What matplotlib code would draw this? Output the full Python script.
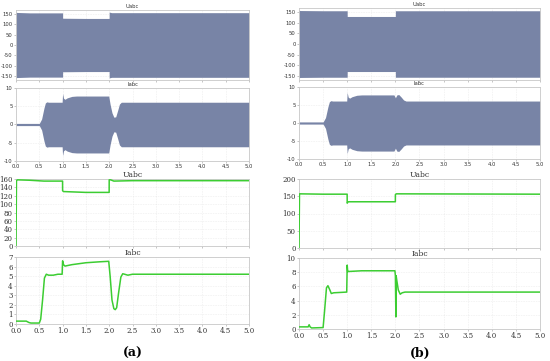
import matplotlib
matplotlib.use("Agg")
import matplotlib.pyplot as plt
import numpy as np

W, H = 550, 361
fig = plt.figure(figsize=(W / 100, H / 100), dpi=100)

# ---------------- data ----------------
# waveform envelopes (a)
wa_u_t = [0.0, 0.02, 0.3, 0.999, 1.0, 1.5, 1.999, 2.0, 2.05, 3.0, 5.0]
wa_u_env = [160, 158, 156, 156, 130, 129, 129, 160, 157, 157, 157]
wa_i_t = [0.0, 0.5, 0.55, 0.6, 0.63, 0.66, 0.7, 0.99, 1.0, 1.02, 1.05, 1.1, 1.2, 1.3, 1.5, 1.99,
          2.02, 2.06, 2.1, 2.14, 2.18, 2.22, 2.26, 2.3, 5.0]
wa_i_env = [0.3, 0.3, 1.5, 4.5, 5.9, 6.2, 6.1, 6.1, 8.5, 7.2, 6.9, 7.3, 7.7, 7.8, 7.8, 7.8,
            5.5, 3.2, 2.0, 2.1, 3.8, 5.6, 6.1, 6.1, 6.1]
# waveform envelopes (b)
wb_u_t = [0.0, 0.02, 0.5, 0.999, 1.0, 1.999, 2.0, 5.0]
wb_u_env = [160, 158, 157, 157, 130, 130, 157, 157]
wb_i_t = [0.0, 0.5, 0.55, 0.6, 0.63, 0.66, 0.7, 0.99, 1.0, 1.02, 1.05, 1.1, 1.2, 1.3, 1.5, 1.97,
          2.0, 2.03, 2.07, 2.12, 2.17, 2.22, 5.0]
wb_i_env = [0.3, 0.3, 1.5, 4.5, 5.9, 6.2, 6.1, 6.1, 8.5, 7.2, 6.9, 7.3, 7.7, 7.8, 7.8, 7.8,
            7.0, 7.8, 7.9, 7.2, 6.4, 6.1, 6.1]

# RMS traces (a)
ra_u_t = [0.0, 0.01, 0.03, 0.3, 0.6, 0.999, 1.0, 1.02, 1.5, 1.999, 2.0, 2.03, 2.1, 2.5, 5.0]
ra_u_v = [0, 156, 158, 157, 155, 155, 132, 130, 128, 128, 158, 158, 155, 156, 156]
ra_i_t = [0.0, 0.22, 0.28, 0.32, 0.5, 0.53, 0.57, 0.61, 0.65, 0.7, 0.8, 0.9, 0.99, 1.0, 1.02,
          1.05, 1.2, 1.5, 1.8, 1.99, 2.02, 2.06, 2.1, 2.13, 2.16, 2.2, 2.25, 2.29, 2.33, 2.4, 2.5, 5.0]
ra_i_v = [0.3, 0.3, 0.15, 0.1, 0.1, 0.5, 2.5, 4.8, 5.2, 5.1, 5.1, 5.2, 5.2, 6.6, 6.2,
          6.05, 6.2, 6.4, 6.5, 6.55, 5.0, 2.5, 1.6, 1.5, 1.7, 3.2, 4.9, 5.25, 5.2, 5.1, 5.2, 5.2]
# RMS traces (b)
rb_u_t = [0.0, 0.01, 0.5, 0.999, 1.0, 1.02, 1.999, 2.0, 2.02, 5.0]
rb_u_v = [0, 157, 156, 156, 130, 134, 134, 155, 157, 156]
rb_i_t = [0.0, 0.19, 0.21, 0.23, 0.26, 0.5, 0.53, 0.57, 0.6, 0.64, 0.67, 0.72, 0.99, 1.0, 1.01,
          1.03, 1.3, 1.99, 2.0, 2.01, 2.015, 2.03, 2.06, 2.1, 2.14, 2.2, 5.0]
rb_i_v = [0.3, 0.3, 0.6, 0.3, 0.15, 0.2, 2.5, 5.8, 6.1, 5.5, 5.0, 5.1, 5.2, 9.0, 8.1,
          8.1, 8.2, 8.2, 7.5, 1.7, 7.5, 6.8, 5.5, 4.9, 5.1, 5.2, 5.2]

xticks = np.arange(0, 5.01, 0.5)
xticklabels = ["%.1f" % v for v in xticks]

WAVE_COLOR = "#7884a6"
GREEN = "#3ccd32"


def px_axes(x0, y0, x1, y1):
    return fig.add_axes([x0 / W, 1 - y1 / H, (x1 - x0) / W, (y1 - y0) / H])


def style_frame(ax):
    for s in ax.spines.values():
        s.set_color("#c8c8c8")
        s.set_linewidth(0.6)
    ax.tick_params(length=1.5, width=0.4, color="#999999", pad=1)


def wave_panel(rect, t, env, ylim, yticks, title, show_x):
    ax = px_axes(*rect)
    env = np.array(env, dtype=float)
    ax.fill_between(t, -env, env, color=WAVE_COLOR, lw=0, zorder=2)
    ax.set_xlim(0, 5)
    ax.set_ylim(*ylim)
    ax.set_yticks(yticks)
    ax.set_yticklabels([str(v) for v in yticks], fontsize=3.8, color="#333333")
    ax.set_xticks(xticks)
    if show_x:
        ax.set_xticklabels(xticklabels, fontsize=3.8, color="#333333")
    else:
        ax.set_xticklabels([])
    ax.grid(True, ls=(0, (1, 2)), color="#dddddd", lw=0.4, zorder=0)
    ax.set_title(title, fontsize=3.8, pad=1.5, color="#333333")
    style_frame(ax)
    return ax


def rms_panel(rect, t, v, ylim, yticks, title, show_x):
    ax = px_axes(*rect)
    ax.plot(t, v, color=GREEN, lw=1.1, zorder=3)
    ax.set_xlim(0, 5)
    ax.set_ylim(*ylim)
    ax.set_yticks(yticks)
    ax.set_yticklabels([str(v) for v in yticks], fontsize=5, family="DejaVu Serif", color="#333333")
    ax.set_xticks(xticks)
    if show_x:
        ax.set_xticklabels(xticklabels, fontsize=5, family="DejaVu Serif", color="#333333")
    else:
        ax.set_xticklabels([])
    ax.grid(True, ls=(0, (1, 2)), color="#dddddd", lw=0.4, zorder=0)
    ax.set_title(title, fontsize=5.5, pad=1.5, family="DejaVu Serif", color="#333333")
    style_frame(ax)
    return ax


u_wave_ticks = [-150, -100, -50, 0, 50, 100, 150]
i_wave_ticks = [-10, -5, 0, 5, 10]

# left column (a)
wave_panel((16, 10, 249, 80), wa_u_t, wa_u_env, (-170, 170), u_wave_ticks, "Uabc", False)
wave_panel((16, 88, 249, 161), wa_i_t, wa_i_env, (-10, 10), i_wave_ticks, "Iabc", True)
rms_panel((16, 179, 249, 246), ra_u_t, ra_u_v, (0, 160), list(range(0, 161, 20)), "Uabc", False)
rms_panel((16, 257, 249, 324), ra_i_t, ra_i_v, (0, 7), list(range(0, 8)), "Iabc", True)

# right column (b)
wave_panel((299, 8, 540, 80), wb_u_t, wb_u_env, (-170, 170), u_wave_ticks, "Uabc", False)
wave_panel((299, 87, 540, 159), wb_i_t, wb_i_env, (-10, 10), i_wave_ticks, "Iabc", True)
rms_panel((299, 179, 540, 248), rb_u_t, rb_u_v, (0, 200), list(range(0, 201, 50)), "Uabc", False)
rms_panel((299, 258, 540, 329), rb_i_t, rb_i_v, (0, 10), list(range(0, 11, 2)), "Iabc", True)

fig.text(133 / W, 1 - 353 / H, "(a)", ha="center", va="center", fontsize=9,
         fontweight="bold", family="DejaVu Serif")
fig.text(420 / W, 1 - 353 / H, "(b)", ha="center", va="center", fontsize=9,
         fontweight="bold", family="DejaVu Serif")

fig.savefig("out.png", dpi=100, facecolor="white")
